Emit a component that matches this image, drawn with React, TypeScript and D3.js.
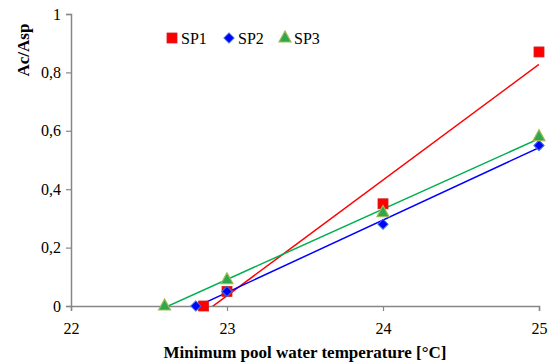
import React, { useRef, useEffect } from 'react';
import * as d3 from 'd3';

const temps = [22.85, 23, 24, 25];
const sp1 = [0, 0.05, 0.35, 0.87];
const sp2Temps = [22.8, 23, 24, 25];
const sp2 = [0, 0.05, 0.28, 0.55];
const sp3Temps = [22.6, 23, 24, 25];
const sp3 = [0, 0.09, 0.32, 0.58];
const xTicks = [22, 23, 24, 25];
const yTicks = [0, 0.2, 0.4, 0.6, 0.8, 1];

const series = [
  { name: 'SP1', xs: temps, ys: sp1, color: '#ff0000', marker: 'square' },
  { name: 'SP2', xs: sp2Temps, ys: sp2, color: '#0000ff', marker: 'diamond' },
  { name: 'SP3', xs: sp3Temps, ys: sp3, color: '#00b050', marker: 'triangle' },
];

const W = 557, H = 364;
const margin = { top: 14, right: 18, bottom: 58, left: 71 };
const font = "'Liberation Serif', 'DejaVu Serif', serif";

// least squares trend line
const fit = (xs: number[], ys: number[]) => {
  const mx = d3.mean(xs) as number;
  const my = d3.mean(ys) as number;
  const sxy = d3.sum(xs, (x, i) => (x - mx) * (ys[i] - my));
  const sxx = d3.sum(xs, x => (x - mx) * (x - mx));
  const slope = sxy / sxx;
  return (x: number) => my + slope * (x - mx);
};

const App = () => {
  const svgRef = useRef<SVGSVGElement>(null);

  useEffect(() => {
    const svg = d3.select(svgRef.current);
    svg.selectAll('*').remove();
    const x = d3.scaleLinear().domain([22, 25]).range([margin.left, W - margin.right]);
    const y = d3.scaleLinear().domain([0, 1]).range([H - margin.bottom, margin.top]);

    svg.append('defs').append('clipPath').attr('id', 'plot')
      .append('rect')
      .attr('x', margin.left).attr('y', margin.top)
      .attr('width', W - margin.left - margin.right)
      .attr('height', H - margin.top - margin.bottom);

    // axes
    const axisColor = '#868686';
    const xAxis = svg.append('g')
      .attr('transform', `translate(0,${y(0)})`)
      .call(d3.axisBottom(x).tickValues(xTicks).tickSize(5).tickFormat(d3.format('d')));
    const yAxis = svg.append('g')
      .attr('transform', `translate(${margin.left},0)`)
      .call(d3.axisLeft(y).tickValues(yTicks).tickSize(5)
        .tickFormat(d => (d === 0 || d === 1 ? String(d) : d3.format('.1f')(d as number).replace('.', ','))));
    [xAxis, yAxis].forEach(a => {
      a.attr('font-family', font).attr('font-size', 16);
      a.select('.domain').attr('stroke', axisColor).attr('stroke-width', 1.5);
      a.selectAll('.tick line').attr('stroke', axisColor).attr('stroke-width', 1.2);
      a.selectAll('.tick text').attr('fill', '#000');
    });
    xAxis.selectAll('.tick text').attr('dy', '1.25em');
    yAxis.selectAll('.tick text').attr('x', -10);

    // trend lines
    const lines = svg.append('g').attr('clip-path', 'url(#plot)');
    series.forEach(s => {
      const f = fit(s.xs, s.ys);
      const x0 = d3.min(s.xs) as number, x1 = d3.max(s.xs) as number;
      lines.append('line')
        .attr('x1', x(x0)).attr('y1', y(f(x0)))
        .attr('x2', x(x1)).attr('y2', y(f(x1)))
        .attr('stroke', s.color).attr('stroke-width', 1.5);
    });

    const drawMarker = (g: any, kind: string, cx: number, cy: number) => {
      if (kind === 'square') {
        g.append('rect').attr('x', cx - 5).attr('y', cy - 5).attr('width', 10).attr('height', 10)
          .attr('fill', '#ff0000').attr('stroke', '#d02020').attr('stroke-width', 0.8);
      } else if (kind === 'diamond') {
        g.append('rect').attr('x', -3.6).attr('y', -3.6).attr('width', 7.2).attr('height', 7.2)
          .attr('transform', `translate(${cx},${cy}) rotate(45)`)
          .attr('fill', '#0000ff').attr('stroke', '#3a6fd8').attr('stroke-width', 1);
      } else {
        g.append('path').attr('d', 'M0,-6L6,5L-6,5Z')
          .attr('transform', `translate(${cx},${cy - 1})`)
          .attr('fill', '#2ea84a').attr('stroke', '#9bbb59').attr('stroke-width', 1.2);
      }
    };

    const marks = svg.append('g');
    series.forEach(s => {
      s.xs.forEach((xv, i) => drawMarker(marks, s.marker, x(xv), y(s.ys[i])));
    });

    // legend
    const legend = svg.append('g').attr('font-family', font).attr('font-size', 16);
    const legendX = [172, 229, 285];
    series.forEach((s, i) => {
      drawMarker(legend, s.marker, legendX[i], 38);
      legend.append('text').attr('x', legendX[i] + 9).attr('y', 44).text(s.name);
    });

    // titles
    const titles = svg.append('g').attr('font-family', font).attr('font-size', 17).attr('font-weight', 'bold');
    titles.append('text')
      .attr('x', (margin.left + W - margin.right) / 2).attr('y', 358)
      .attr('text-anchor', 'middle')
      .text('Minimum pool water temperature [°C]');
    titles.append('text')
      .attr('transform', 'translate(29,50) rotate(-90)')
      .attr('text-anchor', 'middle')
      .text('Ac/Asp');
  }, []);

  return <svg ref={svgRef} width={W} height={H} style={{ position: 'absolute', left: 0, top: 0, background: '#fff' }} />;
};

export default App;
